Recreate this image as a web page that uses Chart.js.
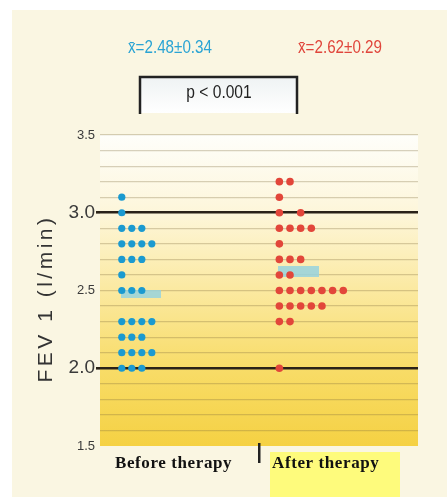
<!DOCTYPE html>
<html lang="en">
<head>
<meta charset="UTF-8" />
<title>FEV 1 before / after therapy</title>
<script src="https://cdn.jsdelivr.net/npm/chart.js"></script>
<style>
  html, body { margin: 0; padding: 0; background: #fff; }
  canvas { display: block; }
</style>
</head>
<body>
<canvas id="fevChart" width="447" height="497"></canvas>
<script>
  // groups and values
  const categories = ['Before therapy', 'After therapy'];
  const fevLevels = [3.2, 3.1, 3.0, 2.9, 2.8, 2.7, 2.6, 2.5, 2.4, 2.3, 2.2, 2.1, 2.0];
  // column slots used by dots on each level (index into fevLevels)
  const beforeCols = [[], [0], [0], [0,1,2], [0,1,2,3], [0,1,2], [0], [0,1,2], [], [0,1,2,3], [0,1,2], [0,1,2,3], [0,1,2]];
  const afterCols  = [[0,1], [0], [0,2], [0,1,2,3], [0], [0,1,2], [0,1], [0,1,2,3,4,5,6], [0,1,2,3,4], [0,1], [], [], [0]];
  const means = [2.48, 2.62];
  const sds = [0.34, 0.29];
  const yTicks = [1.5, 2.0, 2.5, 3.0, 3.5];
  const pValueText = 'p < 0.001';

  const dotColors = ['#1b9ad0', '#e2463a'];
  const groupStart = [0.137, 1.128];
  const colStep = [0.063, 0.067];
  const meanX = [0.258, 1.248];

  function dots(cols, g) {
    const pts = [];
    cols.forEach((row, i) => row.forEach(c => pts.push({ x: groupStart[g] + c * colStep[g], y: fevLevels[i] })));
    return pts;
  }

  function meanMark(w, h, color) {
    const c = document.createElement('canvas');
    c.width = w; c.height = h;
    const x = c.getContext('2d');
    x.fillStyle = color;
    x.fillRect(0, 0, w, h);
    return c;
  }

  // squeezed text, the original uses a condensed face
  function narrowText(ctx, text, x, y, sx) {
    ctx.save();
    ctx.translate(x, y);
    ctx.scale(sx, 1);
    ctx.fillText(text, 0, 0);
    ctx.restore();
  }

  const tickVal = c => (c && c.tick) ? c.tick.value : NaN;
  const isMajor = v => Math.abs(v - 2) < 1e-6 || Math.abs(v - 3) < 1e-6;
  const isLabel = v => yTicks.some(t => Math.abs(t - v) < 1e-6);
  const sans = "'Liberation Sans', Arial, sans-serif";

  const decor = {
    id: 'decor',
    beforeDraw(chart) {
      const ctx = chart.ctx, a = chart.chartArea;
      ctx.save();
      ctx.fillStyle = '#ffffff';
      ctx.fillRect(0, 0, chart.width, chart.height);
      ctx.fillStyle = '#faf6e2';
      ctx.fillRect(12, 10, chart.width - 12, chart.height - 10);
      const g = ctx.createLinearGradient(0, a.top, 0, a.bottom);
      g.addColorStop(0, '#fefefa');
      g.addColorStop(0.25, '#fdf6da');
      g.addColorStop(0.5, '#fbe9a0');
      g.addColorStop(0.75, '#f8dc68');
      g.addColorStop(1, '#f5d143');
      ctx.fillStyle = g;
      ctx.fillRect(a.left, a.top, a.right - a.left, a.bottom - a.top);
      // yellow patch behind second label
      ctx.fillStyle = '#fefb7c';
      ctx.fillRect(270, 452, 130, 45);
      ctx.restore();
    },
    afterDraw(chart) {
      const ctx = chart.ctx, a = chart.chartArea;
      ctx.save();
      // mean +- sd texts
      ctx.font = '19px ' + sans;
      ctx.textAlign = 'center';
      ctx.textBaseline = 'middle';
      const txtX = [170, 340];
      means.forEach((m, i) => {
        ctx.fillStyle = i === 0 ? '#2aa4d4' : '#e0463c';
        narrowText(ctx, 'x\u0304=' + m.toFixed(2) + '\u00b1' + sds[i].toFixed(2), txtX[i], 48, 0.8);
      });
      // p-value box
      const pg = ctx.createLinearGradient(0, 76, 0, 113);
      pg.addColorStop(0, '#eef2f3');
      pg.addColorStop(1, '#ffffff');
      ctx.fillStyle = pg;
      ctx.fillRect(139, 76, 159, 37);
      ctx.strokeStyle = '#222';
      ctx.lineWidth = 2.5;
      ctx.beginPath();
      ctx.moveTo(140, 114); ctx.lineTo(140, 77); ctx.lineTo(297, 77); ctx.lineTo(297, 114);
      ctx.stroke();
      ctx.fillStyle = '#222';
      narrowText(ctx, pValueText, 219, 93, 0.82);
      // y title
      ctx.translate(46, (a.top + a.bottom) / 2 + 8);
      ctx.rotate(-Math.PI / 2);
      ctx.font = '21px ' + sans;
      ctx.letterSpacing = '3.5px';
      ctx.fillStyle = '#333';
      ctx.fillText('FEV 1 (l/min)', 0, 0);
      ctx.restore();
      // group labels and divider tick
      ctx.save();
      ctx.font = 'bold 17px "Liberation Serif", "Times New Roman", serif';
      ctx.letterSpacing = '0.6px';
      ctx.fillStyle = '#111';
      ctx.textBaseline = 'alphabetic';
      ctx.textAlign = 'left';
      ctx.fillText(categories[0], 115, 468);
      ctx.fillText(categories[1], 272, 468);
      ctx.fillStyle = '#222';
      ctx.fillRect(258, 443, 2.5, 20);
      ctx.restore();
    }
  };

  new Chart(document.getElementById('fevChart'), {
    type: 'scatter',
    data: {
      datasets: [
        {
          label: categories[0],
          data: dots(beforeCols, 0),
          backgroundColor: dotColors[0],
          borderWidth: 0,
          pointRadius: 3.6,
          order: 1
        },
        {
          label: categories[1],
          data: dots(afterCols, 1),
          backgroundColor: dotColors[1],
          borderWidth: 0,
          pointRadius: 3.8,
          order: 1
        },
        {
          label: 'mean before',
          data: [{ x: meanX[0], y: means[0] }],
          pointStyle: meanMark(40, 8, 'rgba(150, 210, 222, 0.85)'),
          order: 2
        },
        {
          label: 'mean after',
          data: [{ x: meanX[1], y: means[1] }],
          pointStyle: meanMark(41, 11, 'rgba(150, 210, 222, 0.85)'),
          order: 2
        }
      ]
    },
    options: {
      responsive: false,
      animation: false,
      layout: { padding: { top: 135, bottom: 51, left: 0, right: 29 } },
      plugins: {
        legend: { display: false },
        tooltip: { enabled: false }
      },
      scales: {
        x: { type: 'linear', min: 0, max: 2, display: false },
        y: {
          min: 1.5,
          max: 3.5,
          afterFit(scale) { scale.width = 100; },
          border: { display: false },
          ticks: {
            stepSize: 0.1,
            padding: 1,
            color: '#3a3a3a',
            autoSkip: false,
            callback: v => isLabel(v) ? v.toFixed(1) : '',
            font: c => isMajor(tickVal(c))
              ? { family: sans, size: 19 }
              : { family: sans, size: 13 }
          },
          grid: {
            drawTicks: true,
            tickLength: 4,
            tickColor: c => isMajor(tickVal(c)) ? '#2a2218' : 'rgba(0,0,0,0)',
            color: c => {
              const v = tickVal(c);
              if (Math.abs(v - 1.5) < 1e-6) return 'rgba(0,0,0,0)';
              return isMajor(v) ? '#2a2218' : 'rgba(125, 105, 60, 0.3)';
            },
            lineWidth: c => isMajor(tickVal(c)) ? 2.6 : 1.2
          }
        }
      }
    },
    plugins: [decor]
  });
</script>
</body>
</html>
